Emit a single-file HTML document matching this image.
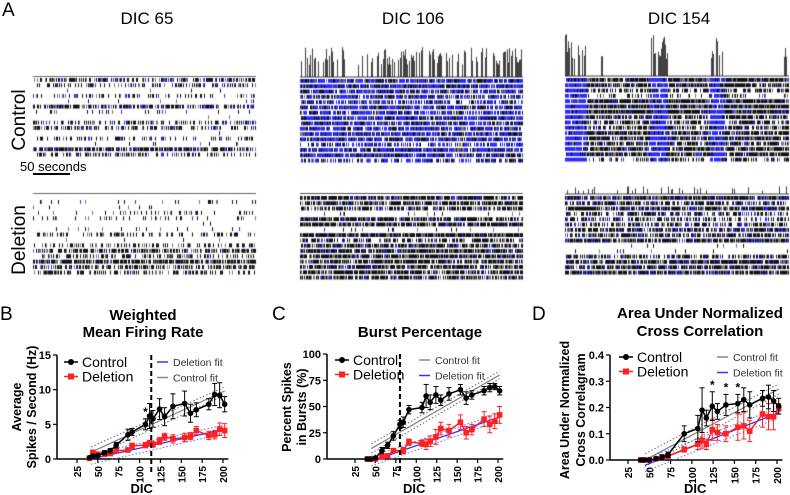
<!DOCTYPE html>
<html><head><meta charset="utf-8"><style>
html,body{margin:0;padding:0;background:#fff;}
body{width:790px;height:495px;position:relative;overflow:hidden;font-family:"Liberation Sans",Arial,sans-serif;}
canvas{position:absolute;}
svg{position:absolute;left:0;top:0;}
</style></head><body>
<canvas id="rast" width="790" height="300" style="left:0;top:0"></canvas>
<svg id="fig" width="790" height="495">
<g font-family="Liberation Sans, Arial, sans-serif">
<text x="2" y="16" font-size="19">A</text>
<text x="147" y="24" font-size="17" text-anchor="middle">DIC 65</text>
<text x="413" y="24" font-size="17" text-anchor="middle">DIC 106</text>
<text x="679" y="24" font-size="17" text-anchor="middle">DIC 154</text>
<text transform="translate(25,120) rotate(-90)" font-size="19" text-anchor="middle">Control</text>
<text transform="translate(25,240) rotate(-90)" font-size="19" text-anchor="middle">Deletion</text>
<text x="20" y="171" font-size="13">50 seconds</text>
<rect x="33" y="173" width="37" height="2" fill="#000"/>
<text x="0" y="320" font-size="19">B</text>
<text x="272" y="320" font-size="19">C</text>
<text x="532" y="320" font-size="19">D</text>
<g font-weight="bold" font-size="15" text-anchor="middle">
<text x="143" y="320">Weighted</text>
<text x="143" y="337">Mean Firing Rate</text>
<text x="420" y="337">Burst Percentage</text>
<text x="700" y="318">Area Under Normalized</text>
<text x="700" y="336">Cross Correlation</text>
</g>
<g font-weight="bold" font-size="12.5" text-anchor="middle">
<text transform="translate(21,407) rotate(-90)">Average</text>
<text transform="translate(36,407) rotate(-90)">Spikes / Second  (Hz)</text>
<text transform="translate(291,407) rotate(-90)">Percent Spikes</text>
<text transform="translate(306,407) rotate(-90)">in Bursts (%)</text>
<text transform="translate(569,410) rotate(-90)">Area Under Normalized</text>
<text transform="translate(585,410) rotate(-90)">Cross Correlagram</text>
</g>
</g>
</svg>
<script>
// ---------- chart data ----------
const dic = [40,44,50,58,65,72,86,91,107,112,116,124,130,140,154,161,168,183,190,196,202];
const bCtrl = [0.2,0.4,0.5,0.9,1.2,2.0,3.5,3.9,5.0,6.2,5.8,7.2,6.1,7.6,8.0,6.6,7.1,7.9,9.3,9.2,7.9];
const bCtrlErr = [0.2,0.2,0.2,0.3,0.3,0.4,0.8,0.5,0.8,1.8,1.2,1.5,1.3,1.8,1.8,1.3,1.0,0.8,1.6,1.8,1.1];
const bDel = [0.1,0.9,0.7,0.7,0.8,1.2,1.3,1.9,2.0,2.3,2.1,2.6,3.2,2.9,3.1,3.3,4.1,3.4,3.5,4.3,4.1];
const bDelErr = [0.3,0.4,0.3,0.3,0.3,0.3,0.3,0.4,0.4,0.4,0.4,0.5,0.5,0.6,0.6,0.5,0.6,0.6,0.6,0.9,1.0];
const bFitCtrl = [42,1.0,202,9.8];
const bFitDel = [42,0.0,202,4.3];
const bYTicks = [0,5,10,15];

const cDic = [40,44,50,58,65,72,80,84,91,107,112,117,124,130,140,154,161,168,183,190,196,202];
const cCtrl = [0,0,1,8,13,22,33,35,47,49,60,54,61,56,62,66,58,61,65,68,69,65];
const cCtrlErr = [1,1,1,3,3,4,4,5,4,5,11,7,8,5,6,5,6,4,4,4,3,4];
const cDelDic = [40,44,50,58,65,72,84,91,107,112,117,124,130,140,154,161,168,183,190,196,202];
const cDel = [0,0,0,2,3,8,8,16,15,14,17,21,29,27,35,25,28,38,33,36,42];
const cDelErr = [1,1,1,2,2,2,3,3,3,5,5,7,6,6,7,6,5,7,8,7,8];
const cFitCtrl = [45,10,202,80];
const cFitDel = [45,-2,202,40];
const cYTicks = [0,25,50,75,100];

const dDic = [40,44,50,58,65,72,91,107,112,117,124,130,140,154,161,168,183,190,196,202];
const dCtrl = [0,0,0,0.005,0.01,0.02,0.10,0.12,0.19,0.16,0.205,0.185,0.21,0.215,0.23,0.21,0.235,0.24,0.225,0.205];
const dCtrlErr = [0.005,0.005,0.005,0.005,0.01,0.01,0.03,0.05,0.085,0.03,0.055,0.03,0.04,0.035,0.045,0.05,0.03,0.045,0.04,0.03];
const dDel = [0,0,0,0.005,0.01,0.015,0.04,0.06,0.075,0.06,0.115,0.105,0.10,0.125,0.13,0.11,0.175,0.165,0.165,0.195];
const dDelErr = [0.005,0.005,0.005,0.005,0.01,0.01,0.01,0.02,0.03,0.02,0.04,0.03,0.03,0.05,0.05,0.04,0.05,0.05,0.05,0.02];
const dFitCtrl = [45,0.0,202,0.27];
const dFitDel = [45,-0.02,202,0.18];
const dYTicks = [0,0.1,0.2,0.3,0.4];
const dStars = [124,140,154];
const xTicks = [25,50,75,100,125,150,175,200];

const NS = 'http://www.w3.org/2000/svg';
const fig = document.getElementById('fig');
function el(tag, attrs, parent){
  const e = document.createElementNS(NS, tag);
  for (const k in attrs) e.setAttribute(k, attrs[k]);
  (parent||fig).appendChild(e); return e;
}
function makeChart(cfg){
  const g = el('g', {});
  
  
  const X = v => cfg.x0 + (v - 25) * (cfg.x1 - cfg.x0) / 175;
  const Y = v => cfg.yb - v * (cfg.yb - cfg.yt) / cfg.ymax;
  const ya = el('line', {x1:cfg.ax, y1:cfg.yt, x2:cfg.ax, y2:cfg.yb, stroke:'#000','stroke-width':1.5}, g);
   
  const xa = el('line', {x1:cfg.ax, y1:cfg.yb, x2:X(204)+2, y2:cfg.yb, stroke:'#000','stroke-width':1.5}, g);
   
  cfg.yTicks.forEach(t => {
    el('line', {x1:cfg.ax-4, y1:Y(t), x2:cfg.ax, y2:Y(t), stroke:'#000','stroke-width':1.2}, g);
    const tx = el('text', {x:cfg.ax-6, y:Y(t)+4, 'font-size':11, 'font-weight':'bold', 'text-anchor':'end'}, g);
    tx.textContent = cfg.fmt(t);
     
  });
  xTicks.forEach(t => {
    el('line', {x1:X(t), y1:cfg.yb, x2:X(t), y2:cfg.yb+4, stroke:'#000','stroke-width':1.2}, g);
    const tx = el('text', {transform:`translate(${X(t)+4},${cfg.yb+7}) rotate(-90)`, 'font-size':10, 'font-weight':'bold', 'text-anchor':'end'}, g);
    tx.textContent = t;
     
  });
  const xt = el('text', {x:(cfg.ax+X(204))/2, y:493, 'font-size':13, 'font-weight':'bold', 'text-anchor':'middle'}, g);
  xt.textContent = 'DIC';  
  function fit(f, color, dot, nm){
    const [a, ya0, b, yb0] = f;
    const l = el('line', {x1:X(a), y1:Y(ya0), x2:X(b), y2:Y(yb0), stroke:color, 'stroke-width':1.3}, g);
     
    const off = cfg.ymax*cfg.band;
    [-1,1].forEach(s => {
      el('line', {x1:X(a), y1:Y(ya0 + s*off), x2:X(b), y2:Y(yb0 + s*off*0.8), stroke:dot, 'stroke-width':1, 'stroke-dasharray':'1.5,2'}, g);
    });
  }
  fit(cfg.fitC, '#888', '#666', 'control-fit-line');
  fit(cfg.fitD, '#3333ff', '#6666ff', 'deletion-fit-line');
  function series(xs, ys, es, color, square, nm){
    let d = '';
    xs.forEach((v,i) => { d += (i?'L':'M') + X(v) + ' ' + Y(ys[i]); });
    const p = el('path', {d, fill:'none', stroke:color, 'stroke-width':1.5}, g);
     
    xs.forEach((v,i) => {
      const x = X(v), y1 = Y(ys[i]+es[i]), y2 = Y(ys[i]-es[i]);
      el('line', {x1:x, y1:y1, x2:x, y2:y2, stroke:color, 'stroke-width':1}, g);
      el('line', {x1:x-2.5, y1:y1, x2:x+2.5, y2:y1, stroke:color, 'stroke-width':1}, g);
      el('line', {x1:x-2.5, y1:y2, x2:x+2.5, y2:y2, stroke:color, 'stroke-width':1}, g);
      let m;
      if (square) m = el('rect', {x:x-2.8, y:Y(ys[i])-2.8, width:5.6, height:5.6, fill:color}, g);
      else m = el('circle', {cx:x, cy:Y(ys[i]), r:2.8, fill:color}, g);
       
    });
  }
  series(cfg.dxD, cfg.del, cfg.delE, '#ff2020', true, 'deletion');
  series(cfg.dxC, cfg.ctrl, cfg.ctrlE, '#000', false, 'control');
  if (cfg.dash) {
    const dl = el('line', {x1:X(cfg.dash), y1:cfg.yt, x2:X(cfg.dash), y2:cfg.yb+14, stroke:'#000', 'stroke-width':2, 'stroke-dasharray':'5,3'}, g);
     
  }
  (cfg.stars||[]).forEach(s => {
    const i = cfg.dxC.indexOf(s);
    const st = el('text', {x:X(s), y:Y(cfg.ctrl[i]+cfg.ctrlE[i])-3, 'font-size':12, 'font-weight':'bold', 'text-anchor':'middle'}, g);
    st.textContent = '*';  
  });
  const L = cfg.leg;
  [[0,'#000',false,'Control'],[1,'#ff2020',true,'Deletion']].forEach(([k,c,sq,t]) => {
    const yy = L.y + k*14.5;
    el('line', {x1:L.x-7, y1:yy, x2:L.x+7, y2:yy, stroke:c, 'stroke-width':1.5}, g);
    if (sq) el('rect', {x:L.x-3, y:yy-3, width:6, height:6, fill:c}, g);
    else el('circle', {cx:L.x, cy:yy, r:3, fill:c}, g);
    const tx = el('text', {x:L.x+11, y:yy+5, 'font-size':14}, g);
    tx.textContent = t;  
  });
  L.fits.forEach(([c,t],k) => {
    const yy = L.y + k*15.5;
    el('line', {x1:L.fx, y1:yy, x2:L.fx+11, y2:yy, stroke:c, 'stroke-width':1.5}, g);
    const tx = el('text', {x:L.fx+16, y:yy+4, 'font-size':10.5, fill:'#333'}, g);
    tx.textContent = t;  
  });
}
makeChart({name:'chart-b', ax:57, x0:77, x1:223, yt:355, yb:459, ymax:15, band:0.05, yTicks:bYTicks, fmt:t=>t,
  dxC:dic, ctrl:bCtrl, ctrlE:bCtrlErr, dxD:dic, del:bDel, delE:bDelErr, fitC:bFitCtrl, fitD:bFitDel, dash:114, stars:[107],
  leg:{x:71, y:362, fx:157, fits:[['#3333ff','Deletion fit'],['#888','Control fit']]}});
makeChart({name:'chart-c', ax:327, x0:355, x1:498, yt:354, yb:459, ymax:100, band:0.045, yTicks:cYTicks, fmt:t=>t,
  dxC:cDic, ctrl:cCtrl, ctrlE:cCtrlErr, dxD:cDelDic, del:cDel, delE:cDelErr, fitC:cFitCtrl, fitD:cFitDel, dash:80,
  leg:{x:342, y:360, fx:419, fits:[['#888','Control fit'],['#3333ff','Deletion fit']]}});
makeChart({name:'chart-d', ax:610, x0:628, x1:777, yt:355, yb:460, ymax:0.4, band:0.06, yTicks:dYTicks, fmt:t=>t.toFixed(1),
  dxC:dDic, ctrl:dCtrl, ctrlE:dCtrlErr, dxD:dDic, del:dDel, delE:dDelErr, fitC:dFitCtrl, fitD:dFitDel, stars:dStars,
  leg:{x:626, y:357, fx:717, fits:[['#888','Control fit'],['#3333ff','Deletion fit']]}});

// ---------- raster illustrations (decorative) ----------
const cv = document.getElementById('rast').getContext('2d');
let seed = 12345;
function rnd(){ seed = (seed*1103515245 + 12345) & 0x7fffffff; return seed/0x7fffffff; }
function raster(x0, x1, y0, y1, rows, dens, blue, bursts){
  const h = (y1-y0)/rows;
  for (let r=0; r<rows; r++){
    const d = dens[r % dens.length];
    if (d <= 0) continue;
    const yy = y0 + r*h;
    for (let x=x0; x<x1; x++){
      let p = d, bl = blue;
      if (bursts) for (const [a,b] of bursts) if (x>=a && x<b){ p = 0.97; bl = 0.75; }
      if (rnd() < p){
        cv.fillStyle = rnd() < bl ? '#2a2aff' : (rnd()<0.7?'#111':'#777');
        cv.fillRect(x, yy, 1, Math.max(2, h-1.5));
      }
    }
  }
}
function trace(x0, x1, base, peaks){
  cv.strokeStyle = '#111'; cv.lineWidth = 0.8; cv.beginPath();
  for (let x=x0; x<x1; x++){
    let v = 0;
    for (const [a,b,hh,p] of peaks) if (x>=a && x<b && rnd()<p) v = hh*(0.4+0.6*rnd());
    cv.moveTo(x+0.5, base); cv.lineTo(x+0.5, base - v);
  }
  cv.stroke();
  cv.beginPath(); cv.moveTo(x0, base); cv.lineTo(x1, base); cv.stroke();
}
cv.fillStyle='#666'; cv.fillRect(33,76,223,1);
raster(33,256,78,158,15,[0.6,0.45,0.02,0.3,0.02,0.7,0.1,0.02,0.5,0.5,0.02,0.3,0.02,0.8,0.45],0.15);
cv.fillStyle='#666'; cv.fillRect(33,193,223,1);
raster(33,256,200,276,14,[0.08,0.02,0.15,0.15,0.02,0.05,0.3,0.02,0.4,0.7,0.4,0.85,0.6,0.45],0.03);
trace(300,523,77,[[300,345,30,0.5],[345,355,0,0],[355,523,30,0.5]]);
raster(300,523,79,164,16,[0.92,0.95,0.85,0.8,0.75,0.9,0.85,0.9,0.85,0.85,0.9,0.92,0.6,0.9,0.9,0.6],0.55);
cv.fillStyle='#555'; cv.fillRect(300,193,223,1);
raster(300,523,196,281,16,[0.9,0.85,0.75,0.08,0.85,0.9,0.03,0.95,0.6,0.85,0.9,0.9,0.85,0.85,0.85,0.85],0.08);
trace(565,789,76,[[565,587,42,0.6],[601,603,28,1],[650,668,42,0.6],[710,725,40,0.5],[784,789,30,0.6]]);
raster(565,789,78,163,16,[0.98,0.9,0.6,0.3,0.98,0.98,0.98,0.8,0.7,0.7,0.9,0.9,0.8,0.9,0.9,0.5],0.08,[[565,587],[650,668],[710,725]]);
trace(565,789,194,[[565,789,8,0.15]]);
raster(565,789,196,276,15,[0.95,0.7,0.9,0.6,0.6,0.7,0.8,0.75,0.9,0.05,0.05,0.65,0.9,0.85,0.9],0.15);
</script>
</body></html>
